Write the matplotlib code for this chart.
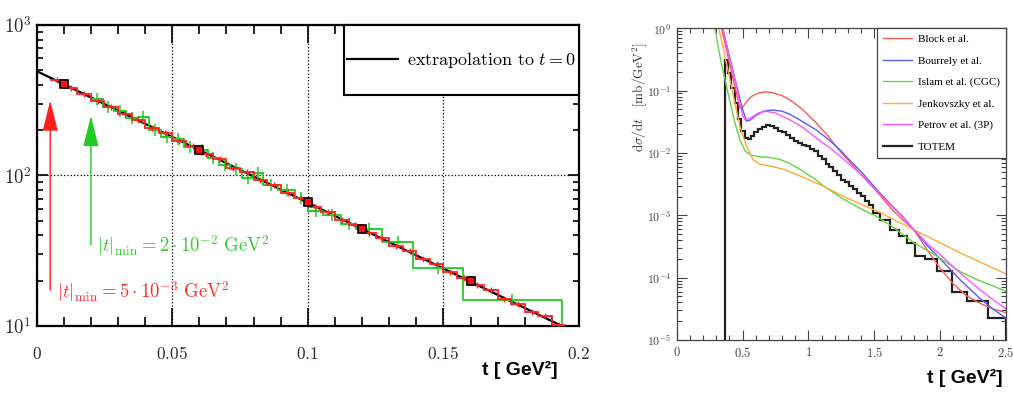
import numpy as np
import matplotlib
matplotlib.use("Agg")
import matplotlib.pyplot as plt
from matplotlib.patches import Rectangle
from matplotlib.ticker import MultipleLocator, LogLocator, NullFormatter

plt.rcParams['mathtext.fontset'] = 'cm'

# ---- left panel: |t| distribution with extrapolation ----
extrap_t = [0.0, 0.2]
extrap_y = [494, 8.8]

red_edges = [0.005, 0.010, 0.015, 0.020, 0.025, 0.030, 0.035, 0.040, 0.045, 0.050,
             0.055, 0.060, 0.065, 0.070, 0.075, 0.080, 0.085, 0.090, 0.095, 0.100,
             0.105, 0.110, 0.115, 0.120, 0.125, 0.130, 0.135, 0.140, 0.145, 0.150,
             0.155, 0.160, 0.165, 0.170, 0.175, 0.180, 0.185, 0.190, 0.195, 0.200]
red_vals = [428, 381, 350, 311, 286, 255, 235, 208, 192, 170,
            158, 139, 128, 113, 105, 93, 86, 76, 70.5, 62,
            57.5, 51, 47, 41.5, 38.5, 34, 31.5, 27.8, 25.8, 22.8,
            21, 18.6, 17.3, 15.1, 14.1, 12.4, 11.6, 10.1, 9.4]

green_edges = [0.020, 0.0243, 0.0286, 0.0329, 0.0372, 0.0415, 0.0458, 0.0501, 0.0544,
               0.0587, 0.0630, 0.0673, 0.0713, 0.0756, 0.0799, 0.0836, 0.0891, 0.0952,
               0.1001, 0.1056, 0.1124, 0.1179, 0.1275, 0.1387, 0.1572, 0.1937]
green_vals = [322, 286, 270, 240, 245, 200, 180, 176, 155, 148, 131, 118,
              110, 96.4, 104, 87, 80.6, 70.8, 58.2, 54.8, 47.5, 44, 36, 24.4, 14.9]

square_t = [0.01, 0.06, 0.10, 0.12, 0.16]
square_y = [404, 148, 66.2, 44.3, 19.8]

# ---- right panel: model predictions vs TOTEM ----
block_t = [0.30, 0.34, 0.40, 0.44, 0.48, 0.50, 0.53, 0.57, 0.62, 0.67, 0.72, 0.80, 0.86, 0.95,
           1.06, 1.15, 1.24, 1.32, 1.40, 1.52, 1.64, 1.72, 1.80, 1.90, 2.00, 2.10, 2.20, 2.30, 2.40, 2.50]
block_y = [2.24, 1.0, 0.282, 0.120, 0.0525, 0.0537, 0.0661, 0.0813, 0.0912, 0.0955, 0.0933, 0.0832,
           0.0708, 0.0513, 0.0302, 0.0186, 0.0107, 0.00692, 0.00447, 0.00240, 0.00120, 0.000832,
           0.000589, 0.000282, 0.000141, 7.94e-5, 5.13e-5, 3.89e-5, 3.16e-5, 2.75e-5]

bourrely_t = [0.30, 0.35, 0.40, 0.45, 0.50, 0.53, 0.56, 0.60, 0.66, 0.72, 0.80, 0.86, 0.95, 1.06,
              1.15, 1.24, 1.32, 1.40, 1.52, 1.64, 1.72, 1.80, 1.90, 2.00, 2.15, 2.30, 2.40, 2.50]
bourrely_y = [2.5, 1.0, 0.355, 0.132, 0.0501, 0.0324, 0.0339, 0.0398, 0.0468, 0.0490, 0.0468,
              0.0417, 0.0324, 0.0234, 0.0166, 0.0112, 0.00741, 0.00501, 0.00257, 0.00138,
              0.000933, 0.000589, 0.000331, 0.000200, 9.33e-5, 4.68e-5, 3.16e-5, 2.24e-5]

islam_t = [0.27, 0.29, 0.334, 0.37, 0.405, 0.44, 0.48, 0.52, 0.56, 0.62, 0.70, 0.78, 0.86, 0.95,
           1.05, 1.11, 1.25, 1.40, 1.52, 1.65, 1.80, 1.95, 2.15, 2.30, 2.40, 2.50]
islam_y = [1.78, 1.0, 0.309, 0.141, 0.0661, 0.0316, 0.0162, 0.0107, 0.00933, 0.00871, 0.00851,
           0.00794, 0.00676, 0.00525, 0.00380, 0.00302, 0.00191, 0.00126, 0.000955, 0.000631,
           0.000363, 0.000240, 0.000126, 8.91e-5, 7.41e-5, 6.03e-5]

jenk_t = [0.30, 0.32, 0.40, 0.48, 0.53, 0.58, 0.63, 0.71, 0.81, 0.95, 1.11, 1.30, 1.52, 1.80, 2.15, 2.50]
jenk_y = [1.58, 1.0, 0.166, 0.0269, 0.0129, 0.00776, 0.00661, 0.00617, 0.00550, 0.00417,
          0.00295, 0.00186, 0.00117, 0.000589, 0.000251, 0.000115]

petrov_t = [0.30, 0.35, 0.40, 0.45, 0.50, 0.52, 0.56, 0.62, 0.68, 0.75, 0.86, 0.95, 1.06, 1.15,
            1.24, 1.32, 1.40, 1.52, 1.64, 1.72, 1.80, 1.90, 2.00, 2.15, 2.30, 2.40, 2.50]
petrov_y = [2.5, 1.0, 0.339, 0.126, 0.0398, 0.0339, 0.0363, 0.0437, 0.0468, 0.0437, 0.0339,
            0.0263, 0.0174, 0.0126, 0.00891, 0.00631, 0.00457, 0.00245, 0.00135, 0.000912,
            0.000589, 0.000355, 0.000234, 0.000120, 6.46e-5, 4.47e-5, 3.16e-5]

totem_edges = [0.367, 0.39, 0.415, 0.44, 0.465, 0.49, 0.515, 0.54, 0.565, 0.59, 0.62, 0.65,
               0.68, 0.71, 0.74, 0.77, 0.80, 0.83, 0.86, 0.89, 0.92, 0.95, 0.98, 1.01, 1.04,
               1.07, 1.10, 1.13, 1.16, 1.19, 1.22, 1.25, 1.28, 1.31, 1.34, 1.37, 1.40, 1.43,
               1.46, 1.494, 1.544, 1.62, 1.684, 1.747, 1.81, 1.886, 1.975, 2.089, 2.203, 2.367, 2.5]
totem_vals = [0.309, 0.191, 0.112, 0.0631, 0.0355, 0.0224, 0.0174, 0.0166, 0.0186, 0.0214,
              0.0245, 0.0258, 0.0280, 0.0266, 0.0255, 0.0229, 0.0217, 0.0192, 0.0177, 0.0156,
              0.0147, 0.0133, 0.0128, 0.0115, 0.0106, 0.00905, 0.00805, 0.00668, 0.00595,
              0.00505, 0.00442, 0.00375, 0.00343, 0.00290, 0.00267, 0.00230, 0.00207, 0.00171,
              0.00147, 0.00110, 0.000851, 0.000589, 0.000468, 0.000363, 0.000219, 0.000200,
              0.000129, 6.0e-5, 4.27e-5, 2.29e-5]

model_labels = ['Block et al.', 'Bourrely et al.', 'Islam et al. (CGC)',
                'Jenkovszky et al.', 'Petrov et al. (3P)', 'TOTEM']

tick_col = '#2a2a3a'

fig = plt.figure(figsize=(10.13, 3.95), dpi=100)
ax1 = fig.add_axes([0.0362, 0.1747, 0.5354, 0.762])
ax2 = fig.add_axes([0.668, 0.1392, 0.3251, 0.7892])

# ---------------- left ----------------
ax1.set_yscale('log')
line_ex, = ax1.plot(extrap_t, extrap_y, color='k', lw=1.6, zorder=2)
ax1.stairs(green_vals, green_edges, baseline=None, color='#22cc22', lw=1.3, zorder=3)
ax1.vlines(green_edges[-1], 1, green_vals[-1], color='#22cc22', lw=1.3, zorder=3)
green_c = 0.5 * (np.array(green_edges[1:]) + np.array(green_edges[:-1]))
ax1.plot(green_c, green_vals, '+', color='#22cc22', ms=8, mew=1.1, zorder=3)
ax1.stairs(red_vals, red_edges, baseline=None, color='#ff2020', lw=1.3, zorder=4)
red_c = 0.5 * (np.array(red_edges[1:]) + np.array(red_edges[:-1]))
ax1.plot(red_c, red_vals, '+', color='#ff2020', ms=5, mew=1.0, zorder=4)
ax1.plot(square_t, square_y, 's', mfc='#ff1010', mec='k', ms=6, mew=1.2, zorder=5)

ax1.annotate('', xy=(0.005, 315), xytext=(0.005, 17.3),
             arrowprops=dict(arrowstyle='-|>,head_length=1.6,head_width=0.4', color='#ff2020',
                             lw=1.0, shrinkA=0, shrinkB=0, mutation_scale=12))
ax1.annotate('', xy=(0.020, 249), xytext=(0.020, 34.7),
             arrowprops=dict(arrowstyle='-|>,head_length=1.6,head_width=0.4', color='#22cc22',
                             lw=1.0, shrinkA=0, shrinkB=0, mutation_scale=12))
ax1.text(0.0074, 17.0, r'$|t|_{\rm min} = 5\cdot10^{-3}\ {\rm GeV}^2$', color='#ff3030',
         fontsize=13.5, va='center', ha='left')
ax1.text(0.0221, 34.5, r'$|t|_{\rm min} = 2\cdot10^{-2}\ {\rm GeV}^2$', color='#33cc33',
         fontsize=13.5, va='center', ha='left')

ax1.set_xlim(0, 0.2)
ax1.set_ylim(10, 1000)
ax1.set_xticks([0, 0.05, 0.1, 0.15, 0.2])
ax1.set_xticklabels([r'$0$', r'$0.05$', r'$0.1$', r'$0.15$', r'$0.2$'], fontsize=12.5, color=tick_col)
ax1.xaxis.set_minor_locator(MultipleLocator(0.01))
ax1.set_yticks([10, 100, 1000])
ax1.set_yticklabels([r'$10^1$', r'$10^2$', r'$10^3$'], fontsize=13.5, color=tick_col)
ax1.yaxis.set_minor_locator(LogLocator(base=10, subs=np.arange(2, 10)))
ax1.yaxis.set_minor_formatter(NullFormatter())
ax1.tick_params(which='both', direction='in', top=True, right=True, width=1.2)
ax1.tick_params(axis='x', which='major', length=13, pad=14)
ax1.tick_params(axis='x', which='minor', length=6.5)
ax1.tick_params(axis='y', which='major', length=8, pad=4)
ax1.tick_params(axis='y', which='minor', length=4)
ax1.grid(True, which='major', ls=':', color='k', lw=0.9)
for s in ax1.spines.values():
    s.set_linewidth(1.6)

ax1.add_patch(Rectangle((0.5667, 0.7674), 0.4333, 0.2326, transform=ax1.transAxes,
                        facecolor='white', edgecolor='k', lw=1.5, zorder=6, clip_on=False))
leg1 = ax1.legend([line_ex], [r'$\mathrm{extrapolation\ to\ }t=0$'], loc='center',
                  bbox_to_anchor=(0.783, 0.884), frameon=False, fontsize=13,
                  handlelength=2.8, handletextpad=0.5)
leg1.set_zorder(7)

fig.text(520 / 1013, 1 - 370 / 395, 't [ GeV²]', ha='center', va='center',
         fontsize=14, fontweight='bold', family='Liberation Sans')

# ---------------- right ----------------
ax2.set_yscale('log')
h_block, = ax2.plot(block_t, block_y, color='#ff5a5a', lw=1.0)
h_bour, = ax2.plot(bourrely_t, bourrely_y, color='#5a5aff', lw=1.0)
h_isl, = ax2.plot(islam_t, islam_y, color='#66d444', lw=1.0)
h_jen, = ax2.plot(jenk_t, jenk_y, color='#ffaa3a', lw=1.0)
h_pet, = ax2.plot(petrov_t, petrov_y, color='#ff55ff', lw=1.0)
h_tot = ax2.stairs(totem_vals, totem_edges, baseline=1e-6, color='#222222', lw=1.6)

ax2.set_xlim(0, 2.5)
ax2.set_ylim(1e-5, 1)
ax2.set_xticks([0, 0.5, 1, 1.5, 2, 2.5])
ax2.set_xticklabels([r'$0$', r'$0.5$', r'$1$', r'$1.5$', r'$2$', r'$2.5$'], fontsize=9, color='#444')
ax2.xaxis.set_minor_locator(MultipleLocator(0.1))
ax2.set_yticks([1e-5, 1e-4, 1e-3, 1e-2, 1e-1, 1])
ax2.set_yticklabels([r'$10^{-5}$', r'$10^{-4}$', r'$10^{-3}$', r'$10^{-2}$', r'$10^{-1}$', r'$10^{0}$'],
                    fontsize=8.5, color='#444')
ax2.yaxis.set_minor_locator(LogLocator(base=10, subs=np.arange(2, 10)))
ax2.yaxis.set_minor_formatter(NullFormatter())
ax2.tick_params(which='both', direction='in', top=True, right=True, width=0.8, color='#444')
ax2.tick_params(which='major', length=7, pad=4)
ax2.tick_params(which='minor', length=3.5)
for s in ax2.spines.values():
    s.set_linewidth(0.9)
    s.set_color('#444')

ax2.text(-0.112, 0.78, r'$\mathrm{d}\sigma/\mathrm{d}t\quad[\mathrm{mb/GeV}^2]$', transform=ax2.transAxes,
         rotation=90, ha='center', va='center', fontsize=9.5, color='#333')

leg2 = ax2.legend([h_block, h_bour, h_isl, h_jen, h_pet, h_tot], model_labels,
                  loc='upper right', bbox_to_anchor=(1, 1), borderaxespad=0,
                  prop={'family': 'Liberation Serif', 'size': 8}, handlelength=2.6,
                  handletextpad=0.5, labelspacing=1.05, borderpad=0.55, fancybox=False,
                  framealpha=1, edgecolor='#444')
leg2.get_frame().set_linewidth(0.9)

fig.text(965 / 1013, 1 - 378 / 395, 't [ GeV²]', ha='center', va='center',
         fontsize=14, fontweight='bold', family='Liberation Sans')

fig.savefig('out.png', dpi=100)
